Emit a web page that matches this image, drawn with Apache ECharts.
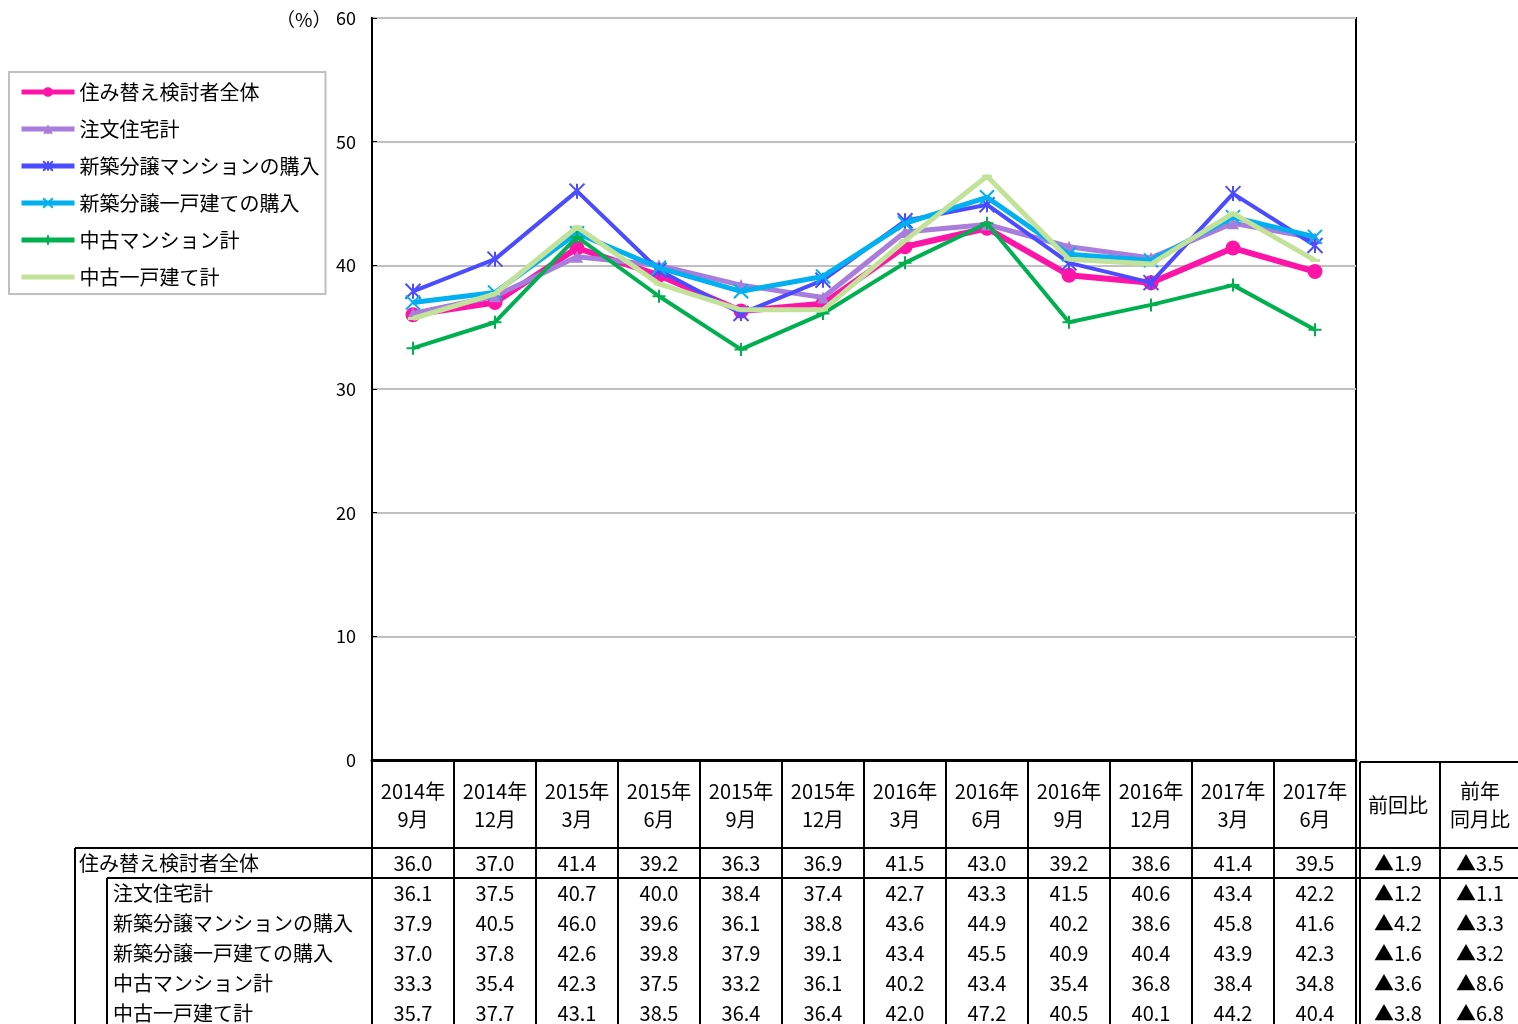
<!DOCTYPE html>
<html><head><meta charset="utf-8">
<script src="https://cdn.jsdelivr.net/npm/echarts@6/dist/echarts.min.js"></script>
<style>html,body{margin:0;padding:0;background:#fff}#c{width:1518px;height:1024px}</style>
</head><body><div id="c"></div>
<script>
const FONT = "'Noto Sans CJK JP','Noto Sans',sans-serif";
const categories = ['2014年\n9月','2014年\n12月','2015年\n3月','2015年\n6月','2015年\n9月','2015年\n12月','2016年\n3月','2016年\n6月','2016年\n9月','2016年\n12月','2017年\n3月','2017年\n6月'];
const seriesNames = ['住み替え検討者全体','注文住宅計','新築分譲マンションの購入','新築分譲一戸建ての購入','中古マンション計','中古一戸建て計'];
const allTotal   = [36.0,37.0,41.4,39.2,36.3,36.9,41.5,43.0,39.2,38.6,41.4,39.5];
const custom     = [36.1,37.5,40.7,40.0,38.4,37.4,42.7,43.3,41.5,40.6,43.4,42.2];
const newMansion = [37.9,40.5,46.0,39.6,36.1,38.8,43.6,44.9,40.2,38.6,45.8,41.6];
const newHouse   = [37.0,37.8,42.6,39.8,37.9,39.1,43.4,45.5,40.9,40.4,43.9,42.3];
const usedMansion= [33.3,35.4,42.3,37.5,33.2,36.1,40.2,43.4,35.4,36.8,38.4,34.8];
const usedHouse  = [35.7,37.7,43.1,38.5,36.4,36.4,42.0,47.2,40.5,40.1,44.2,40.4];
const prevDiff   = ['▲1.9','▲1.2','▲4.2','▲1.6','▲3.6','▲3.8'];
const yoyDiff    = ['▲3.5','▲1.1','▲3.3','▲3.2','▲8.6','▲6.8'];
const seriesData = [allTotal, custom, newMansion, newHouse, usedMansion, usedHouse];
const yTicks = [0,10,20,30,40,50,60];

const colors = ['#FF14A8','#A97DDB','#4B4BFF','#00B0F0','#00B050','#C2E29A'];
const widths = [6,5,4,5,4,5];
const symbols = ['circle','triangle',
  'path://M0,0L10,10M10,0L0,10M5,0L5,10',
  'path://M0,0L10,10M10,0L0,10',
  'path://M5,0L5,10M0,5L10,5',
  'path://M0,0L0,0M0,5L10,5M10,10L10,10'];
const sizes = [15,12,15,14,13,10];
const borderW = [0,0,2,2,2,3];

const chart = echarts.init(document.getElementById('c'), null, {renderer:'canvas'});
const series = seriesNames.map((n,i)=>({
  name:n, type:'line', data:seriesData[i],
  symbol:symbols[i], symbolSize:sizes[i],
  lineStyle:{color:colors[i], width:widths[i]},
  itemStyle:{color:colors[i], borderColor:colors[i], borderWidth:borderW[i]},
  emphasis:{disabled:true}, animation:false, z:2+i
}));
chart.setOption({
  animation:false,
  textStyle:{fontFamily:FONT},
  grid:{left:372, top:18, width:984, height:742, show:true, borderColor:'#000', borderWidth:2, backgroundColor:'transparent'},
  legend:{
    orient:'vertical', left:9, top:72,
    data:seriesNames,
    itemWidth:53, itemHeight:12, itemGap:15,
    lineStyle:{width:5},
    padding:[9,6,6,10], borderColor:'#c0c0c0', borderWidth:2,
    textStyle:{fontFamily:FONT, fontSize:20, color:'#000', lineHeight:22},
    selectedMode:false
  },
  xAxis:{
    type:'category', data:categories, boundaryGap:true,
    axisLine:{lineStyle:{color:'#000', width:3}},
    axisTick:{inside:true, length:8, lineStyle:{color:'#000', width:2}},
    axisLabel:{fontFamily:FONT, fontSize:20, color:'#000', lineHeight:28, margin:17, interval:0}
  },
  yAxis:{
    type:'value', min:yTicks[0], max:yTicks[yTicks.length-1], interval:10,
    axisLine:{show:true, lineStyle:{color:'#000', width:2}},
    axisTick:{show:true, inside:true, length:5, lineStyle:{color:'#000'}},
    axisLabel:{fontFamily:FONT, fontSize:18, color:'#000', margin:16},
    splitLine:{lineStyle:{color:'#c0c0c0', width:2}}
  },
  series:series
});

// table
const g = [];
const L = (x1,y1,x2,y2,w)=>g.push({type:'line', silent:true, z:50, shape:{x1,y1,x2,y2}, style:{stroke:'#000', lineWidth:w||2}});
const T = (x,y,t,align)=>g.push({type:'text', silent:true, z:51, x, y, style:{text:t, fill:'#000', font:'20px '+FONT, textAlign:align||'center', textVerticalAlign:'middle'}});
const cx = categories.map((c,i)=>chart.convertToPixel({xAxisIndex:0}, i));
const half = (cx[1]-cx[0])/2;
const yTop = 760, yH = 848, yR1 = 878, yBot = 1024;
cx.forEach(x=>L(Math.round(x-half), yTop, Math.round(x-half), yBot));
const xEnd = Math.round(cx[cx.length-1]+half);
L(xEnd, yTop-2, xEnd, yBot);
L(xEnd+4, yTop+2, xEnd+4, yBot);
L(xEnd+84, yTop+2, xEnd+84, yBot);
L(xEnd+4, yTop+2, 1518, yTop+2);
L(75, yH, 1518, yH);
L(107, yR1, 1518, yR1);
L(75, yH, 75, yBot);
L(107, yR1, 107, yBot);
// header extra cols
T(xEnd+42, 805, '前回比');
T(xEnd+124, 791, '前年');
T(xEnd+124, 819, '同月比');
// row labels
const rowY = [863, 893, 923, 953, 983, 1013];
seriesNames.forEach((n,r)=>{
  T(r===0?79:113, rowY[r], n, 'left');
  seriesData[r].forEach((v,i)=>T(cx[i], rowY[r], v.toFixed(1)));
  T(xEnd+42, rowY[r], prevDiff[r]);
  T(xEnd+124, rowY[r], yoyDiff[r]);
});
g.push({type:'text', silent:true, x:276, y:20, style:{text:'（%）', fill:'#000', font:'19px '+FONT, textVerticalAlign:'middle'}});
chart.setOption({graphic:g});
</script></body></html>
